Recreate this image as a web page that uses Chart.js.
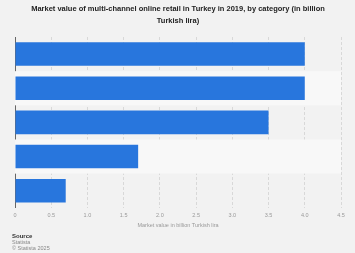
<!DOCTYPE html>
<html><head><meta charset="utf-8">
<script src="https://cdn.jsdelivr.net/npm/chart.js@4"></script>
<style>html,body{margin:0;padding:0;background:#f2f2f2;}canvas{display:block;}</style>
</head><body>
<canvas id="c" width="355" height="253"></canvas>
<script>
const categories = ["Category 1", "Category 2", "Category 3", "Category 4", "Category 5"];
const values = [4.0, 4.0, 3.5, 1.7, 0.7];
const tickValues = [0, 0.5, 1, 1.5, 2, 2.5, 3, 3.5, 4, 4.5];
const titleLines = ["Market value of multi-channel online retail in Turkey in 2019, by category (in billion", "Turkish lira)"];
const axisTitle = "Market value in billion Turkish lira";
const sourceLines = ["Source", "Statista", "© Statista 2025"];

const bands = {
  id: 'bands',
  beforeDatasetsDraw(chart) {
    const {ctx, chartArea, scales} = chart;
    const y = scales.y;
    const step = y.getPixelForValue(1) - y.getPixelForValue(0);
    ctx.save();
    categories.forEach((c, i) => {
      if (i % 2 === 1) {
        const cy = y.getPixelForValue(i);
        ctx.fillStyle = '#f8f8f8';
        ctx.fillRect(chartArea.left, cy - step / 2, chartArea.right - chartArea.left, step);
      }
    });
    ctx.restore();
  },
  afterDraw(chart) {
    const {ctx} = chart;
    ctx.save();
    ctx.textBaseline = 'middle';
    ctx.textAlign = 'left';
    ctx.font = 'bold 6px "Liberation Sans", Arial, sans-serif';
    ctx.fillStyle = '#333';
    ctx.fillText(sourceLines[0], 12, 236);
    ctx.font = '5.5px "Liberation Sans", Arial, sans-serif';
    ctx.fillStyle = '#888';
    ctx.fillText(sourceLines[1], 12, 242);
    ctx.fillText(sourceLines[2], 12, 248);
    ctx.restore();
  }
};

new Chart(document.getElementById('c'), {
  type: 'bar',
  data: {
    labels: categories,
    datasets: [{
      data: values,
      backgroundColor: '#2876dd',
      categoryPercentage: 0.69,
      barPercentage: 1.0
    }]
  },
  options: {
    indexAxis: 'y',
    responsive: false,
    animation: false,
    layout: {padding: {left: 15, right: 14, top: 0, bottom: 24}},
    plugins: {
      legend: {display: false},
      tooltip: {enabled: false},
      title: {
        display: true,
        text: titleLines,
        color: '#222',
        font: {family: '"Liberation Sans", Arial, sans-serif', size: 7.5, weight: 'bold', lineHeight: 1.6},
        padding: {top: 3, bottom: 10}
      }
    },
    scales: {
      x: {
        type: 'linear',
        min: 0, max: 4.5,
        afterBuildTicks(axis) { axis.ticks = tickValues.map(v => ({value: v})); },
        grid: {color: '#d8d8d8', lineWidth: 1, drawTicks: false},
        border: {display: false, dash: [3, 2]},
        ticks: {color: '#999', font: {family: '"Liberation Sans", Arial, sans-serif', size: 5.5}, padding: 4, maxRotation: 0, autoSkip: false},
        title: {display: true, text: axisTitle, color: '#999', font: {family: '"Liberation Sans", Arial, sans-serif', size: 5.5}, padding: {top: 0, bottom: 0}}
      },
      y: {
        afterFit(axis) { axis.width = 0; },
        grid: {display: false},
        border: {display: true, color: '#666', width: 1},
        ticks: {display: false}
      }
    }
  },
  plugins: [bands]
});
</script>
</body></html>
